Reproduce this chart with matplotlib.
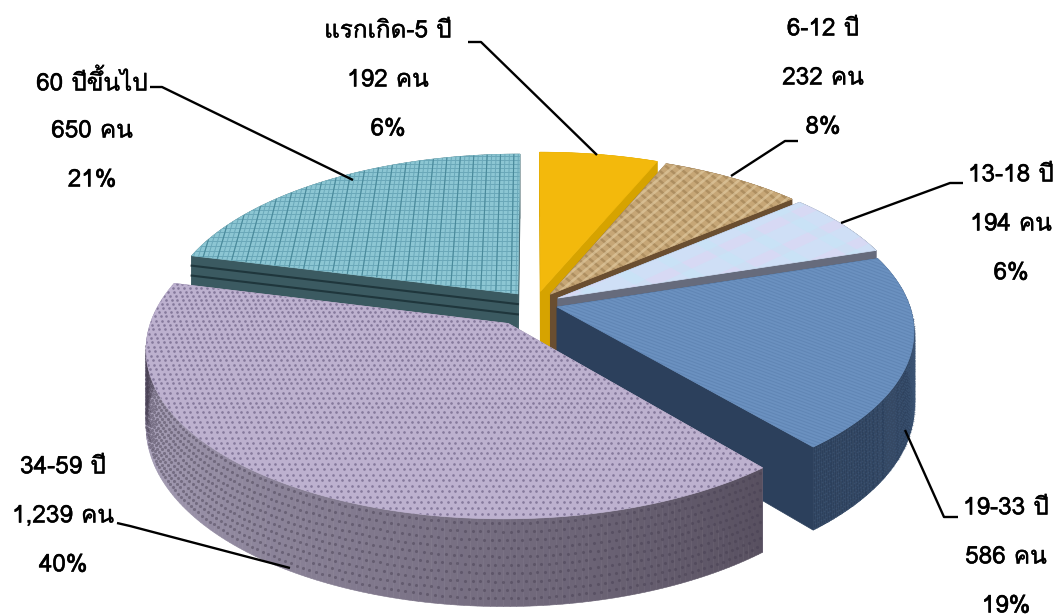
import numpy as np
import matplotlib
matplotlib.use("Agg")
import matplotlib.pyplot as plt
import matplotlib.patheffects as pe
from matplotlib.collections import LineCollection
from matplotlib.patches import Polygon

plt.rcParams['font.family'] = ['Loma', 'Sarabun', 'Noto Sans Thai', 'DejaVu Sans']

# data
ages = ["แรกเกิด-5 ปี", "6-12 ปี", "13-18 ปี", "19-33 ปี", "34-59 ปี", "60 ปีขึ้นไป"]
people = [192, 232, 194, 586, 1239, 650]
percents = ["6%", "8%", "6%", "19%", "40%", "21%"]

# look of each slice
explode = [0.08, 0.075, 0.075, 0.065, 0.14, 0.08]
top_colors = ["#f3b90c", "#c6a676", "#cfdff6", "#6b91c0", "#bdb1cf", "#8cc6d3"]
side_colors = ["#d6a300", "#6a4e30", "#666b7c", "#2c405c", "#8f86a0", "#3b5a61"]

# pie geometry in pixels
cx, cy = 535, 304
rx, ry = 352, 162
persp = 0.14
depth = 74

# label centres and leader lines, in pixels
label_x = [388, 823, 1011, 1006, 63, 92]
label_y = [31, 29, 175, 508, 467, 82]
leaders = [
    [(468, 42), (481, 42), (597, 155)],
    [(798, 141), (785, 141), (731, 176)],
    [(963, 183), (950, 183), (841, 223)],
    [(905, 430), (944, 517), (958, 517)],
    [(117, 523), (130, 526), (290, 568)],
    [(150, 87), (162, 87), (353, 180)],
]


def project(px, py, z=0.0):
    w = 1 + persp * py
    return cx + rx * px / w, cy - ry * py / w + depth * z / w


def plane(t, r, off):
    return off[0] + r * np.sin(t), off[1] + r * np.cos(t)


def face(px, py, z=0.0):
    sx, sy = project(np.asarray(px), np.asarray(py), z)
    return np.column_stack([sx, sy])


fig = plt.figure(figsize=(10.61, 6.16), dpi=100)
ax = fig.add_axes([0, 0, 1, 1])
ax.set_xlim(0, 1061)
ax.set_ylim(616, 0)
ax.axis("off")

total = sum(people)
edges = np.concatenate([[0], np.cumsum(people)]) / total * 2 * np.pi
draw_order = [5, 0, 1, 2, 3, 4]
zo = 1


def screen_lines(patch, spacing, angle, color, lw, alpha=1.0):
    # straight texture lines over the whole picture, cut to one face
    d = np.deg2rad(angle)
    u = np.array([np.cos(d), np.sin(d)])
    n = np.array([-u[1], u[0]])
    segs = []
    for k in np.arange(-1300, 1300, spacing):
        p = np.array([530, 310]) + n * k
        segs.append([p - u * 1300, p + u * 1300])
    lc = LineCollection(segs, colors=color, linewidths=lw, alpha=alpha, zorder=patch.get_zorder())
    ax.add_collection(lc)
    lc.set_clip_path(patch)


for i in draw_order:
    t0, t1 = edges[i], edges[i + 1]
    mid = (t0 + t1) / 2
    off = (explode[i] * np.sin(mid), explode[i] * np.cos(mid))
    ts = np.linspace(t0, t1, 160)
    ax_, ay_ = plane(ts, 1.0, off)

    # radial walls
    for t in (t0, t1):
        ex, ey = plane(t, 1.0, off)
        px = [off[0], ex]
        py = [off[1], ey]
        a = face(px, py, 0.0)
        b = face(px[::-1], py[::-1], 1.0)
        ax.add_patch(Polygon(np.vstack([a, b]), closed=True, fc=side_colors[i], ec=side_colors[i], lw=0.5, zorder=zo))
    zo += 1

    # outer wall in narrow strips
    for j in range(len(ts) - 1):
        qa = face(ax_[j:j + 2], ay_[j:j + 2], 0.0)
        qb = face(ax_[j:j + 2][::-1], ay_[j:j + 2][::-1], 1.0)
        col = side_colors[i]
        if i == 4:
            # lavender wall gets darker towards the right
            s = np.clip((ts[j] - np.deg2rad(140)) / np.deg2rad(110), 0, 1)
            dark = np.array([0x58, 0x50, 0x60])
            light = np.array([0xa4, 0x9c, 0xb4])
            col = tuple((dark + (light - dark) * s) / 255)
        ax.add_patch(Polygon(np.vstack([qa, qb]), closed=True, fc=col, ec=col, lw=0.4, zorder=zo))
    if i == 5:
        # the teal wall has dark stripes
        ex, ey = plane(t0, 1.0, off)
        for z in (0.14, 0.28):
            line = face([off[0], ex], [off[1], ey], z)
            ax.plot(line[:, 0], line[:, 1], color="#1f363c", lw=1.5, zorder=zo + 0.5)
    if i == 4:
        th = np.arange(t0 + np.deg2rad(0.6), t1, np.deg2rad(1.05))
        dots = []
        for n, z in enumerate(np.arange(0.05, 1.0, 0.095)):
            wx, wy = plane(th + (n % 2) * np.deg2rad(0.52), 1.0, off)
            dots.append(face(wx, wy, z))
        dots = np.vstack(dots)
        ax.scatter(dots[:, 0], dots[:, 1], s=5, c="#453d50", lw=0, alpha=0.45, zorder=zo)
    if i == 3:
        th = np.arange(t0, t1, np.deg2rad(0.6))
        dots = []
        for n, z in enumerate(np.arange(0.03, 1.0, 0.05)):
            wx, wy = plane(th + (n % 2) * np.deg2rad(0.3), 1.0, off)
            dots.append(face(wx, wy, z))
        dots = np.vstack(dots)
        ax.scatter(dots[:, 0], dots[:, 1], s=1.6, c="#3c5474", lw=0, alpha=0.7, zorder=zo)
    zo += 1

    # top face
    top = face(np.r_[off[0], ax_], np.r_[off[1], ay_], 0.0)
    patch = Polygon(top, closed=True, fc=top_colors[i], ec=top_colors[i], lw=0.5, zorder=zo)
    ax.add_patch(patch)

    if i == 1:
        screen_lines(patch, 7.5, 40, "#9d7f52", 1.8, 0.6)
        screen_lines(patch, 7.5, -40, "#e3cda4", 1.8, 0.6)
    if i == 2:
        # pale mottling
        screen_lines(patch, 26, -25, "#e2d2f2", 7, 0.45)
        screen_lines(patch, 33, 30, "#c2e6f6", 7, 0.45)
    if i == 3:
        screen_lines(patch, 3.0, 20, "#5a7fae", 0.8, 0.6)
    if i == 5:
        # grid lying in the pie plane so it follows the perspective
        gx = np.arange(-1.2, 0.3, 0.0145)
        segs = [face([g, g], [-0.2, 1.3]) for g in gx]
        lc = LineCollection(segs, colors="#6aa8b9", linewidths=0.7, zorder=zo)
        ax.add_collection(lc)
        lc.set_clip_path(patch)
        segs = [face([-1.3, 0.3], [g, g]) for g in np.arange(-0.2, 1.3, 0.032)]
        lc = LineCollection(segs, colors="#6aa8b9", linewidths=0.7, zorder=zo)
        ax.add_collection(lc)
        lc.set_clip_path(patch)
        segs = [face([g, g], [-0.2, 1.3]) for g in gx[::3]]
        lc = LineCollection(segs, colors="#4a8a9b", linewidths=0.8, zorder=zo)
        ax.add_collection(lc)
        lc.set_clip_path(patch)
    if i == 4:
        pts = []
        for n, gy in enumerate(np.arange(-1.3, 0.5, 0.0255)):
            gx = np.arange(-1.3, 0.9, 0.0165) + (n % 2) * 0.00825
            pts.append(face(gx, np.full_like(gx, gy)))
        pts = np.vstack(pts)
        sc = ax.scatter(pts[:, 0], pts[:, 1], s=3.6, c="#7b6f92", lw=0, alpha=0.85, zorder=zo)
        sc.set_clip_path(patch)
    zo += 1

# leader lines
for pts in leaders:
    pts = np.array(pts)
    ax.plot(pts[:, 0], pts[:, 1], color="black", lw=1.7, zorder=zo, solid_capstyle="butt")

# labels, three lines each
for i in range(len(ages)):
    lines = [ages[i], "{:,} คน".format(people[i]), percents[i]]
    for n, s in enumerate(lines):
        t = ax.text(label_x[i], label_y[i] + n * 49, s, ha="center", va="center",
                    fontsize=17.5, color="black", zorder=zo + 1)
        t.set_path_effects([pe.withStroke(linewidth=0.3, foreground="black")])

fig.savefig("out.png", dpi=100)
